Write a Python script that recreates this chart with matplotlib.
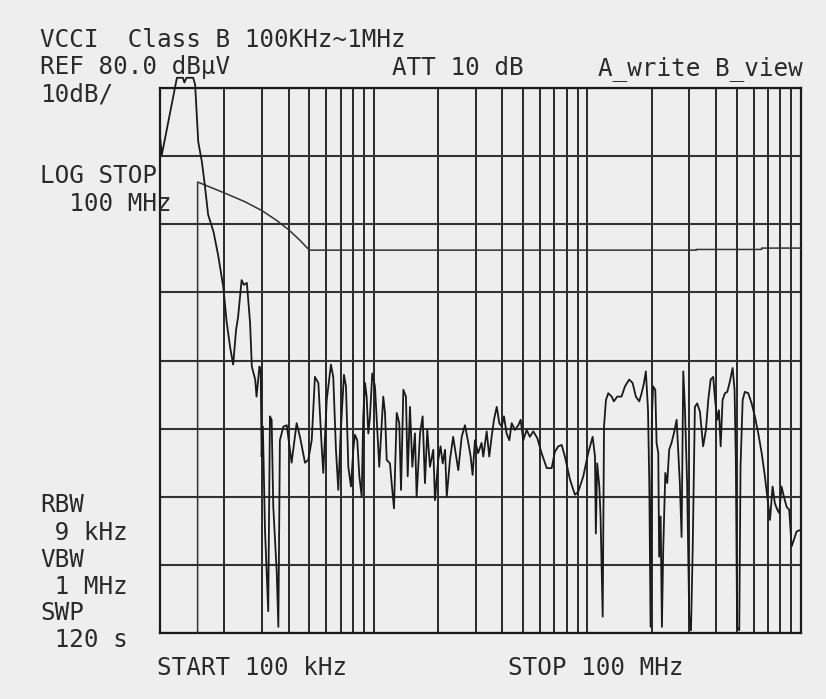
import numpy as np
import matplotlib
matplotlib.use("Agg")
import matplotlib.pyplot as plt
from matplotlib.ticker import LogLocator, NullFormatter

# measured sweep, frequency in MHz and level in dBuV
trace_mhz = [
    0.100, 0.102, 0.120, 0.128, 0.130, 0.133, 0.143, 0.146, 0.151, 0.157,
    0.162, 0.168, 0.178, 0.187, 0.198, 0.205, 0.213, 0.220, 0.227, 0.232,
    0.241, 0.247, 0.255, 0.264, 0.269, 0.279, 0.283, 0.292, 0.296, 0.299,
    0.303, 0.310, 0.321, 0.327, 0.333, 0.339, 0.352, 0.358, 0.364, 0.378,
    0.392, 0.413, 0.436, 0.452, 0.477, 0.494, 0.513, 0.531, 0.551, 0.571,
    0.581, 0.603, 0.631, 0.647, 0.666, 0.683, 0.701, 0.726, 0.742, 0.761,
    0.783, 0.803, 0.817, 0.838, 0.857, 0.879, 0.894, 0.911, 0.927, 0.944,
    0.961, 0.985, 1.014, 1.040, 1.062, 1.089, 1.109, 1.130, 1.151, 1.192,
    1.214, 1.245, 1.282, 1.318, 1.343, 1.377, 1.416, 1.443, 1.479, 1.517,
    1.560, 1.589, 1.648, 1.695, 1.738, 1.782, 1.834, 1.901, 1.936, 2.005,
    2.056, 2.104, 2.158, 2.198, 2.275, 2.355, 2.489, 2.582, 2.675, 2.773,
    2.844, 2.904, 2.979, 3.083, 3.199, 3.258, 3.380, 3.475, 3.565, 3.656,
    3.767, 3.873, 3.972, 4.074, 4.188, 4.315, 4.426, 4.581, 4.753, 4.875,
    5.012, 5.200, 5.383, 5.585, 5.834, 6.109, 6.457, 6.808, 7.047, 7.311,
    7.586, 7.852, 8.299, 8.750, 9.057, 9.572, 10.09, 10.59, 10.86, 10.96,
    11.12, 11.38, 11.53, 11.80, 11.97, 12.22, 12.53, 13.00, 13.31, 13.80,
    14.45, 15.00, 15.70, 16.29, 16.87, 17.50, 17.95, 18.41, 18.79, 19.23,
    19.50, 19.77, 20.05, 20.32, 20.80, 21.09, 21.48, 21.68, 22.03, 22.34,
    22.65, 23.17, 23.66, 24.15, 24.77, 25.41, 26.18, 26.61, 27.10, 27.61,
    28.12, 28.64, 29.31, 29.99, 30.55, 31.12, 31.87, 32.66, 33.65, 34.83,
    35.89, 36.81, 37.76, 38.82, 39.63, 40.55, 41.30, 42.07, 42.95, 44.06,
    45.19, 46.45, 47.86, 48.87, 49.55, 50.23, 51.40, 52.12, 53.33, 54.58,
    56.62, 58.75, 60.81, 63.10, 65.46, 67.76, 69.50, 71.61, 73.62, 75.51,
    77.45, 79.07, 81.10, 83.18, 85.70, 88.10, 90.36, 92.68, 95.30, 98.86,
]
trace_dbuv = [
    72.8, 70.2, 81.5, 81.5, 80.8, 81.5, 81.5, 80.5, 72.1, 69.2,
    65.8, 61.4, 58.9, 55.5, 50.7, 45.7, 41.9, 39.4, 44.5, 46.4,
    51.8, 51.1, 51.4, 45.5, 39.1, 37.2, 34.7, 39.1, 38.6, 25.9,
    30.3, 15.1, 3.2, 31.8, 31.3, 18.5, 8.8, 0.9, 28.3, 30.3,
    30.5, 25.0, 30.8, 28.8, 25.0, 25.4, 28.3, 37.6, 36.7, 27.4,
    23.5, 34.2, 39.4, 37.6, 26.9, 21.0, 29.4, 37.9, 36.2, 24.4,
    21.5, 26.9, 29.1, 28.3, 23.0, 20.0, 31.8, 36.7, 34.7, 29.3,
    31.8, 38.1, 36.2, 29.8, 24.4, 30.3, 34.7, 32.3, 25.4, 24.9,
    22.0, 18.3, 32.3, 30.8, 21.0, 35.7, 34.7, 23.0, 33.2, 24.4,
    29.3, 20.0, 29.3, 31.8, 22.0, 29.8, 24.4, 26.9, 19.5, 25.4,
    27.4, 24.9, 26.9, 20.0, 25.4, 28.8, 23.9, 28.8, 30.5, 27.9,
    25.9, 23.2, 28.3, 26.4, 27.9, 25.9, 29.6, 25.9, 28.8, 31.3,
    33.2, 30.8, 30.3, 31.8, 29.3, 28.3, 30.8, 29.8, 30.5, 31.3,
    28.3, 29.8, 28.8, 29.6, 28.6, 26.4, 24.2, 24.2, 26.6, 27.4,
    27.6, 25.9, 22.5, 20.3, 20.7, 23.0, 26.4, 28.8, 25.9, 14.6,
    24.9, 21.5, 17.1, 2.4, 30.3, 34.2, 35.2, 34.7, 34.0, 34.7,
    34.7, 36.2, 37.2, 36.7, 34.7, 34.0, 35.2, 36.7, 38.4, 32.7,
    22.0, 0.9, 31.8, 36.2, 35.7, 27.9, 26.4, 11.2, 17.1, 0.9,
    12.2, 23.5, 22.0, 26.9, 27.9, 29.3, 31.3, 26.9, 22.0, 14.1,
    38.4, 32.7, 22.0, 2.4, 0.4, 12.2, 33.2, 33.7, 32.5, 27.4,
    29.8, 34.2, 37.2, 37.6, 34.2, 31.3, 32.7, 27.4, 34.2, 35.2,
    35.4, 36.9, 38.9, 35.7, 25.4, 0.9, 0.4, 24.4, 34.2, 35.4,
    35.2, 33.7, 31.8, 29.3, 26.4, 23.0, 20.0, 16.6, 21.5, 19.0,
    18.1, 17.6, 21.5, 20.0, 18.5, 18.1, 12.7, 13.7, 14.9, 15.1,
]

# class B limit line as drawn by the analyser
limit_mhz = [0.15, 0.15, 0.20, 0.25, 0.30, 0.35, 0.40, 0.45, 0.50,
             32.4, 32.4, 65.4, 65.4, 100.0]
limit_dbuv = [0.0, 66.2, 64.6, 63.3, 62.0, 60.6, 59.2, 57.7, 56.2,
              56.2, 56.3, 56.3, 56.5, 56.5]

header_left = [
    ("VCCI  Class B 100KHz~1MHz", 47),
    ("REF 80.0 dB\u00b5V", 74),
    ("10dB/", 102),
    ("LOG STOP", 183),
    ("  100 MHz", 211),
    ("RBW", 512),
    (" 9 kHz", 540),
    ("VBW", 567),
    (" 1 MHz", 594),
    ("SWP", 620),
    (" 120 s", 647),
]

BG = "#eeeeee"
INK = "#1a1a1a"
W, H = 826, 699

fig = plt.figure(figsize=(W / 100, H / 100), dpi=100, facecolor=BG)
ax = fig.add_axes([160 / W, 1 - 633 / H, 641 / W, 545 / H], facecolor=BG)

ax.set_xscale("log")
ax.set_xlim(0.1, 100)
ax.set_ylim(0, 80)
ax.set_yticks(np.arange(0, 81, 10))
ax.xaxis.set_major_locator(LogLocator(base=10, numticks=10))
ax.xaxis.set_minor_locator(LogLocator(base=10, subs=np.arange(2, 10), numticks=30))
ax.xaxis.set_major_formatter(NullFormatter())
ax.xaxis.set_minor_formatter(NullFormatter())
ax.yaxis.set_major_formatter(NullFormatter())
ax.tick_params(which="both", length=0)
ax.grid(True, which="both", axis="x", color=INK, linewidth=1.3)
ax.grid(True, which="major", axis="y", color="#333333", linewidth=1.5)
for sp in ax.spines.values():
    sp.set_color(INK)
    sp.set_linewidth(1.6)

ax.plot(limit_mhz, limit_dbuv, color="#333333", linewidth=1.1, zorder=3)
ax.plot(trace_mhz, trace_dbuv, color=INK, linewidth=1.3, clip_on=False, zorder=4)

mono = dict(family="DejaVu Sans Mono", size=17.5, color="#2a2a2a", va="baseline")
for txt, yb in header_left:
    fig.text(40 / W, 1 - yb / H, txt, **mono)
fig.text(392 / W, 1 - 75 / H, "ATT 10 dB", **mono)
fig.text(598 / W, 1 - 75 / H, "A_write B_view", **mono)
fig.text(157 / W, 1 - 675 / H, "START 100 kHz", **mono)
fig.text(508 / W, 1 - 675 / H, "STOP 100 MHz", **mono)

fig.savefig("out.png", dpi=100, facecolor=BG)
